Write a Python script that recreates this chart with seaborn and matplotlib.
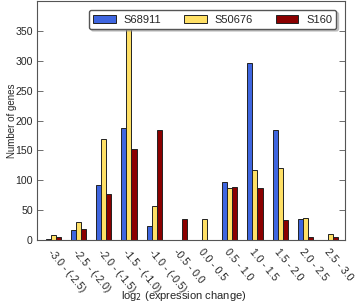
import pandas as pd
import matplotlib
matplotlib.use('Agg')
import matplotlib.pyplot as plt
import seaborn as sns

# 区间标签
bins = ['-3.0 - (-2.5)', '-2.5 - (-2.0)', '-2.0 - (-1.5)', '-1.5 - (-1.0)',
        '-1.0 - (-0.5)', '-0.5 - 0.0', '0.0 - 0.5', '0.5 - 1.0',
        '1.0 - 1.5', '1.5 - 2.0', '2.0 - 2.5', '2.5 - 3.0']

# 各样本基因数
s68911 = [2, 17, 93, 187, 23, 0, 0, 97, 297, 185, 35, 1]
s50676 = [8, 31, 169, 353, 57, 0, 36, 87, 117, 121, 37, 10]
s160 = [5, 19, 77, 153, 184, 36, 0, 89, 87, 33, 5, 5]

samples = ['S68911', 'S50676', 'S160']
colors = ['#3f66e0', '#ffe066', '#8b0000']

df = pd.DataFrame({'bin': bins * 3,
                   'count': s68911 + s50676 + s160,
                   'sample': [s for s in samples for _ in bins]})

sns.set_style('white')
plt.rcParams['font.family'] = ['Liberation Sans', 'DejaVu Sans']
fs = 8

fig = plt.figure(figsize=(3.58, 3.04), dpi=100)
ax = fig.add_axes([0.103, 0.21, 0.861, 0.787])

sns.barplot(data=df, x='bin', y='count', hue='sample', order=bins,
            hue_order=samples, palette=colors, width=0.6, gap=0,
            edgecolor='#222222', linewidth=0.7, saturation=1, ax=ax)

ax.set_xlim(-0.655, 11.577)
ax.set_ylim(0, 400)
ax.set_yticks(range(0, 351, 50))
ax.tick_params(axis='y', direction='in', length=4, labelsize=7.6,
               right=True, left=True, width=0.6, color='#555555', pad=3)
ax.tick_params(axis='x', length=0, labelsize=7.6, pad=5)
plt.setp(ax.get_xticklabels(), rotation=-50, ha='left', rotation_mode='anchor')

for s in ax.spines.values():
    s.set_color('#555555')
    s.set_linewidth(0.8)

ax.set_xlabel('log$_2$ (expression change)', fontsize=fs, va='center')
ax.xaxis.set_label_coords(0.477, -0.234)
ax.set_ylabel('Number of genes', fontsize=7, va='center')
ax.yaxis.set_label_coords(-0.082, 0.5)

ax.legend(loc='upper right', bbox_to_anchor=(0.99, 0.985), ncol=3,
          fontsize=fs, fancybox=True,
          shadow={'color': '#9a9a9a', 'ox': 1.5, 'oy': -1.5},
          edgecolor='#555555', framealpha=1,
          handlelength=2.0, columnspacing=2.1, borderpad=0.4,
          handleheight=0.7, handletextpad=0.7, title=None)

fig.savefig('out.png', dpi=100)
